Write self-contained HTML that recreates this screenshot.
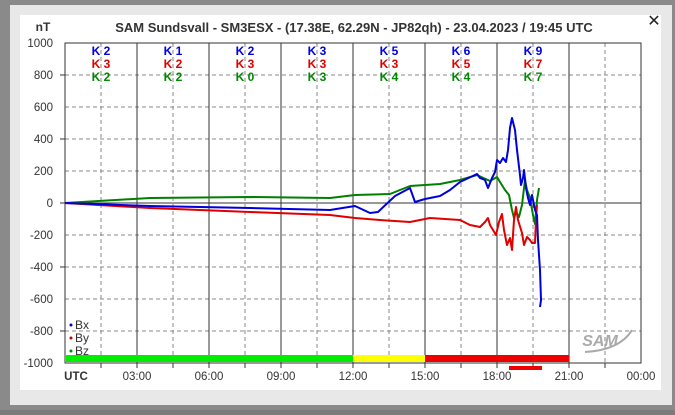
<!DOCTYPE html>
<html><head><meta charset="utf-8"><style>
body{margin:0;width:675px;height:410px;overflow:hidden;background:#7a7a7a;font-family:"Liberation Sans",sans-serif}
</style></head><body>
<svg width="675" height="410" xmlns="http://www.w3.org/2000/svg" font-family="Liberation Sans, sans-serif">
<rect x="0" y="0" width="675" height="410" fill="#8a8a8a"/>
<rect x="10" y="5" width="662" height="400" fill="#e8e8e8"/>
<rect x="20" y="15" width="641" height="375" fill="#fff"/>
<text x="654" y="26" font-size="16" text-anchor="middle" fill="#222">✕</text>
<text x="43" y="31" font-size="12" font-weight="bold" fill="#333" text-anchor="middle">nT</text>
<text x="354" y="32" font-size="13" font-weight="bold" fill="#333" text-anchor="middle">SAM Sundsvall - SM3ESX - (17.38E, 62.29N - JP82qh) - 23.04.2023 / 19:45 UTC</text>
<g stroke="#888" stroke-dasharray="4,3" stroke-width="1">
<line x1="65" y1="75" x2="641" y2="75"/><line x1="65" y1="107" x2="641" y2="107"/><line x1="65" y1="139" x2="641" y2="139"/><line x1="65" y1="171" x2="641" y2="171"/><line x1="65" y1="235" x2="641" y2="235"/><line x1="65" y1="267" x2="641" y2="267"/><line x1="65" y1="299" x2="641" y2="299"/><line x1="65" y1="331" x2="641" y2="331"/>
<line x1="101" y1="43" x2="101" y2="363"/><line x1="173" y1="43" x2="173" y2="363"/><line x1="245" y1="43" x2="245" y2="363"/><line x1="317" y1="43" x2="317" y2="363"/><line x1="389" y1="43" x2="389" y2="363"/><line x1="461" y1="43" x2="461" y2="363"/><line x1="533" y1="43" x2="533" y2="363"/><line x1="605" y1="43" x2="605" y2="363"/>
</g>
<g stroke="#333" stroke-width="1">
<line x1="137" y1="43" x2="137" y2="363"/><line x1="209" y1="43" x2="209" y2="363"/><line x1="281" y1="43" x2="281" y2="363"/><line x1="353" y1="43" x2="353" y2="363"/><line x1="425" y1="43" x2="425" y2="363"/><line x1="497" y1="43" x2="497" y2="363"/><line x1="569" y1="43" x2="569" y2="363"/>
<line x1="65" y1="203" x2="641" y2="203"/>
<rect x="65" y="43" width="576" height="320" fill="none"/>
</g>
<g stroke="#333"><line x1="60" y1="75" x2="65" y2="75"/><line x1="60" y1="139" x2="65" y2="139"/><line x1="60" y1="203" x2="65" y2="203"/><line x1="60" y1="267" x2="65" y2="267"/><line x1="60" y1="331" x2="65" y2="331"/>
<line x1="101" y1="363" x2="101" y2="368"/><line x1="137" y1="363" x2="137" y2="368"/><line x1="173" y1="363" x2="173" y2="368"/><line x1="209" y1="363" x2="209" y2="368"/><line x1="245" y1="363" x2="245" y2="368"/><line x1="281" y1="363" x2="281" y2="368"/><line x1="317" y1="363" x2="317" y2="368"/><line x1="353" y1="363" x2="353" y2="368"/><line x1="389" y1="363" x2="389" y2="368"/><line x1="425" y1="363" x2="425" y2="368"/><line x1="461" y1="363" x2="461" y2="368"/><line x1="497" y1="363" x2="497" y2="368"/><line x1="533" y1="363" x2="533" y2="368"/><line x1="569" y1="363" x2="569" y2="368"/><line x1="605" y1="363" x2="605" y2="368"/></g>
<g font-size="11.5" fill="#333" text-anchor="end">
<text x="53" y="47">1000</text><text x="53" y="79">800</text><text x="53" y="111">600</text><text x="53" y="143">400</text><text x="53" y="175">200</text><text x="53" y="207">0</text><text x="53" y="239">-200</text><text x="53" y="271">-400</text><text x="53" y="303">-600</text><text x="53" y="335">-800</text><text x="53" y="367">-1000</text>
</g>
<g font-size="11.5" fill="#333" text-anchor="middle">
<text x="76" y="380" font-weight="bold">UTC</text><text x="137" y="380">03:00</text><text x="209" y="380">06:00</text><text x="281" y="380">09:00</text><text x="353" y="380">12:00</text><text x="425" y="380">15:00</text><text x="497" y="380">18:00</text><text x="569" y="380">21:00</text><text x="641" y="380">00:00</text>
</g>
<g font-size="12" font-weight="bold" text-anchor="middle">
<g fill="#0000dd"><text x="101" y="55">K 2</text><text x="173" y="55">K 1</text><text x="245" y="55">K 2</text><text x="317" y="55">K 3</text><text x="389" y="55">K 5</text><text x="461" y="55">K 6</text><text x="533" y="55">K 9</text></g>
<g fill="#e00000"><text x="101" y="68">K 3</text><text x="173" y="68">K 2</text><text x="245" y="68">K 3</text><text x="317" y="68">K 3</text><text x="389" y="68">K 3</text><text x="461" y="68">K 5</text><text x="533" y="68">K 7</text></g>
<g fill="#008800"><text x="101" y="81">K 2</text><text x="173" y="81">K 2</text><text x="245" y="81">K 0</text><text x="317" y="81">K 3</text><text x="389" y="81">K 4</text><text x="461" y="81">K 4</text><text x="533" y="81">K 7</text></g>
</g>
<rect x="66" y="355" width="287" height="7" fill="#00ee00"/>
<rect x="353" y="355" width="72" height="7" fill="#ffff00"/>
<rect x="425" y="355" width="144" height="7" fill="#ee0000"/>
<rect x="509" y="366" width="33" height="4" fill="#ee0000"/>
<g font-size="12" fill="#333"><text x="75" y="329">Bx</text><text x="75" y="342">By</text><text x="75" y="355">Bz</text></g>
<circle cx="71" cy="325" r="1.5" fill="#00c"/><circle cx="71" cy="338" r="1.5" fill="#c00"/><circle cx="71" cy="351" r="1.5" fill="#080"/>
<text x="600" y="346" font-size="16" font-style="italic" font-weight="bold" fill="#aaa" text-anchor="middle">SAM</text>
<path d="M585 352 Q620 350 632 330" fill="none" stroke="#aaa" stroke-width="2"/>
<g fill="none" stroke-width="2" stroke-linejoin="round">
<polyline stroke="#008000" points="65,203 150,198 250,197 330,198 355,195 390,194 410,186 440,184 460,180 477,175 490,181 497,177 500,182 505,190 509,195 512,210 514,218 516,212 519,217 522,205 525,180 527,190 530,198 533,215 535,224 537,200 539,188"/>
<polyline stroke="#e00000" points="65,203 150,208 250,212 330,215 355,218 380,220 410,222 430,218 460,220 470,225 480,227 485,222 488,218 490,225 493,230 496,235 499,222 502,214 504,230 507,245 510,238 512,250 514,220 516,207 518,220 522,233 524,245 527,237 530,240 532,243 535,243 536,220 537,205"/>
<polyline stroke="#0000dd" points="65,203 150,206 250,208 330,210 355,206 370,213 378,212 395,196 410,188 415,202 425,199 440,196 450,190 460,182 477,174 480,178 485,180 488,188 492,178 495,172 497,160 500,163 503,158 506,162 508,150 510,128 512,118 515,130 517,150 520,175 521,185 523,178 524,170 526,188 528,198 530,205 532,195 535,210 537,215 538,240 540,270 541,300 540,307"/>
</g>
</svg>
</body></html>
